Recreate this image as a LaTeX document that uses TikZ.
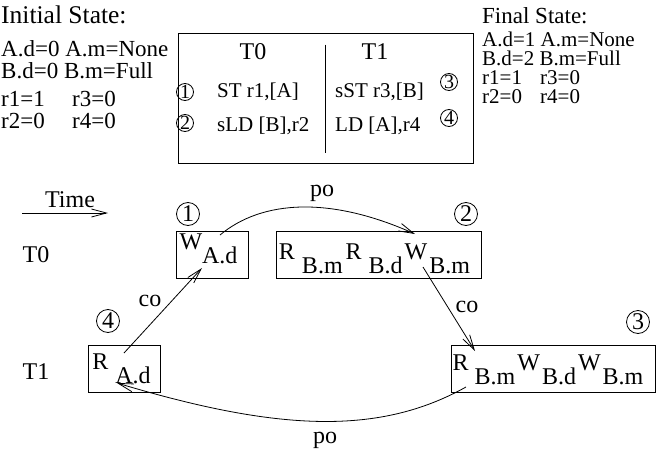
\documentclass[tikz,border=0pt]{standalone}
\usepackage{fontspec}
\setmainfont{Liberation Serif}
\usetikzlibrary{arrows.meta}
\tikzset{
    txt/.style={inner sep=0pt,font=\fontsize{21}{25}\selectfont},
    hdr/.style={inner sep=0pt,font=\fontsize{23}{27}\selectfont},
    ltxt/.style={inner sep=0pt,font=\fontsize{23}{27}\selectfont},
    lhdr/.style={inner sep=0pt,font=\fontsize{25.5}{30}\selectfont},
    lbl/.style={inner sep=0pt,font=\fontsize{24}{28}\selectfont},
    evbox/.style={draw,line width=0.9pt,minimum width=#1,minimum height=47pt,inner sep=0pt},
    num/.style={draw,circle,line width=0.8pt,inner sep=0pt,minimum size=17pt,font=\fontsize{20}{21}\selectfont},
    bignum/.style={num,minimum size=23pt,font=\fontsize{24}{25}\selectfont},
    rel/.style={line width=0.8pt,-{Straight Barb[length=15pt,width=8pt]}}
}
\newcommand\lo[1]{\raisebox{-0.58em}{#1}}

\begin{document}
\begin{tikzpicture}[x=1pt,y=-1pt]
  \useasboundingbox (0,0) rectangle (659,450);

  % Initial state
  \node[lhdr,anchor=west] (init) at (1,15) {Initial State:};
  \node[ltxt,anchor=west] (ia) at (1,49) {A.d=0 A.m=None};
  \node[ltxt,anchor=west] (ib) at (1,71) {B.d=0 B.m=Full};
  \node[ltxt,anchor=west] (ir1) at (1,99) {r1=1};
  \node[ltxt,anchor=west] (ir3) at (72,99) {r3=0};
  \node[ltxt,anchor=west] (ir2) at (1,121) {r2=0};
  \node[ltxt,anchor=west] (ir4) at (72,121) {r4=0};

  % Program
  \node[draw,line width=0.9pt,minimum width=295pt,minimum height=130pt,inner sep=0pt] (prog) at (325.5,98) {};
  \draw[line width=0.8pt] ([yshift=-12pt]prog.north) -- ([yshift=10pt]prog.south);
  \node[lbl] (pt0) at (253,52) {T0};
  \node[lbl] (pt1) at (375,52) {T1};
  \node[txt,anchor=west] (st) at (217,92) {ST r1,[A]};
  \node[txt,anchor=west] (sld) at (217,126) {sLD [B],r2};
  \node[txt,anchor=west] (sst) at (335,92) {sST r3,[B]};
  \node[txt,anchor=west] (ld) at (335,126) {LD [A],r4};
  \node[num] (c1) at (185,92) {1};
  \node[num] (c2) at (185,123) {2};
  \node[num] (c3) at (449,82) {3};
  \node[num] (c4) at (449,118) {4};

  % Final state
  \node[hdr,anchor=west] (fin) at (482,16) {Final State:};
  \node[txt,anchor=west] (fa) at (482,39) {A.d=1 A.m=None};
  \node[txt,anchor=west] (fb) at (482,58) {B.d=2 B.m=Full};
  \node[txt,anchor=west] (fr1) at (482,78) {r1=1};
  \node[txt,anchor=west] (fr3) at (540,78) {r3=0};
  \node[txt,anchor=west] (fr2) at (482,97) {r2=0};
  \node[txt,anchor=west] (fr4) at (540,97) {r4=0};

  % Time line
  \node[lbl] (time) at (70,200) {Time};
  \coordinate (tl) at (22,213);
  \coordinate (tr) at (108,213);
  \draw[rel] (tl) -- (tr);
  \node[lbl] (t0) at (36,255) {T0};
  \node[lbl] (t1) at (36,372) {T1};

  % Events
  \node[evbox=72pt] (wad) at (212,254.5) {};
  \node[lbl] (wadt) at (208.5,248.5) {W\lo{A.d}};
  \node[evbox=205pt] (rr) at (378.5,254.5) {};
  \node[lbl] (rrt) at (374.5,258.5) {R\hspace{7pt}\lo{B.m}\hspace{3pt}R\hspace{7pt}\lo{B.d}\hspace{2pt}W\hspace{2pt}\lo{B.m}};
  \node[evbox=72pt] (rad) at (124,369) {};
  \node[lbl] (radt) at (121.5,369) {R\hspace{7pt}\lo{A.d}};
  \node[evbox=204pt] (rw) at (553,368.5) {};
  \node[lbl] (rwt) at (548,370) {R\hspace{6pt}\lo{B.m}\hspace{2pt}W\hspace{2pt}\lo{B.d}\hspace{2pt}W\hspace{2pt}\lo{B.m}};
  \node[bignum] (e1) at (188,214) {1};
  \node[bignum] (e2) at (466,214) {2};
  \node[bignum] (e3) at (638,322) {3};
  \node[bignum] (e4) at (108,321) {4};

  % Relations
  \coordinate (pos) at (220,235);
  \coordinate (poe) at (415,234);
  \draw[rel] (pos) .. controls (262,200) and (330,196) .. (poe);
  \node[lbl] (po1) at (322,193) {po};
  \coordinate (cos) at (124,353);
  \coordinate (coe) at (202,268);
  \draw[rel] (cos) -- (coe);
  \node[lbl] (co1) at (150,301) {co};
  \coordinate (cbs) at (423,267);
  \coordinate (cbe) at (475,351);
  \draw[rel] (cbs) -- (cbe);
  \node[lbl] (co2) at (467,307) {co};
  \coordinate (pbs) at (466,387);
  \coordinate (pbe) at (117,383);
  \draw[rel] (pbs) .. controls (380,435) and (280,432) .. (pbe);
  \node[lbl] (po2) at (325,440) {po};
\end{tikzpicture}
\end{document}
